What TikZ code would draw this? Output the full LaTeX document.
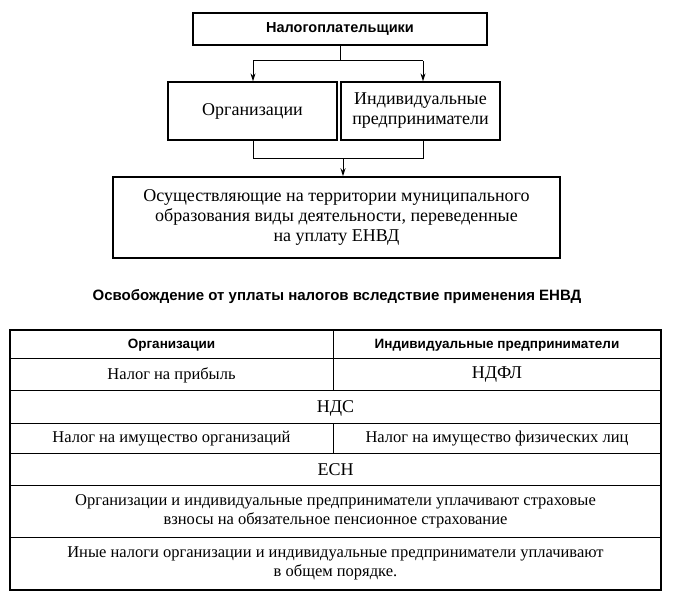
\documentclass[tikz,border=0pt]{standalone}
\usepackage{fontspec}
\setmainfont{Liberation Serif}
\newfontfamily\headfont{Liberation Sans}
\usetikzlibrary{arrows.meta,positioning,calc}

\tikzset{
  box/.style={draw,line width=1.3pt,inner sep=2pt,align=center,font=\fontsize{18}{20}\selectfont},
  cell/.style={align=center,font=\fontsize{16.5}{19}\selectfont},
  hcell/.style={align=center,font=\headfont\bfseries\fontsize{13.5}{16}\selectfont},
  link/.style={line width=1pt,-{Stealth[length=8pt,width=5pt]}},
  rule/.style={line width=1pt}
}

\begin{document}
\begin{tikzpicture}[x=1pt,y=-1pt]
  \useasboundingbox (0,0) rectangle (674,594);

  % payers
  \node[box,minimum width=294pt,minimum height=32pt,font=\headfont\bfseries\fontsize{14.5}{16}\selectfont] (payers) at (340,29) {Налогоплательщики};
  \node[box,minimum width=169pt,minimum height=58pt] (org) at (252.5,111) {Организации};
  \node[box,minimum width=159pt,minimum height=58pt] (ip) at (420.5,111) {Индивидуальные\\предприниматели};
  \node[box,minimum width=447pt,minimum height=81pt,line width=1.5pt] (act) at (336.5,217.5)
    {Осуществляющие на территории муниципального\\образования виды деятельности, переведенные\\на уплату ЕНВД};

  \coordinate (split) at (340,61);
  \coordinate (joinL) at (253,158);
  \coordinate (joinR) at (423,158);
  \draw[rule] (payers.south) -- (split);
  \draw[rule] (253,61) -- (423,61);
  \draw[link] (253,61) -- (org.north -| 253,0);
  \draw[link] (423,61) -- (ip.north -| 423,0);
  \draw[rule] (org.south -| joinL) -- (joinL) -- (joinR) -- (ip.south -| joinR);
  \draw[link] (343,158) -- (act.north -| 343,0);

  % title
  \node[font=\headfont\bfseries\fontsize{15}{17}\selectfont] (title) at (337,297)
    {Освобождение от уплаты налогов вследствие применения ЕНВД};

  % table
  \draw[line width=1.4pt] (10,330) rectangle (661,590);
  \foreach \y in {358,390,423,453,485,537}
    \draw[rule] (10,\y) -- (661,\y);
  \draw[rule] (333,330) -- (333,390);
  \draw[rule] (333,423) -- (333,453);

  \node[hcell] (h1) at (171.5,345) {Организации};
  \node[hcell] (h2) at (497,345) {Индивидуальные предприниматели};
  \node[cell] (r1a) at (171.5,375) {Налог на прибыль};
  \node[cell,font=\fontsize{18}{20}\selectfont] (r1b) at (497,375) {НДФЛ};
  \node[cell,font=\fontsize{18}{20}\selectfont] (r2) at (335.5,408) {НДС};
  \node[cell] (r3a) at (171.5,439) {Налог на имущество организаций};
  \node[cell] (r3b) at (497,439) {Налог на имущество физических лиц};
  \node[cell,font=\fontsize{18}{20}\selectfont] (r4) at (335.5,470) {ЕСН};
  \node[cell] (r5) at (335.5,511) {Организации и индивидуальные предприниматели уплачивают страховые\\взносы на обязательное пенсионное страхование};
  \node[cell] (r6) at (335.5,563.5) {Иные налоги организации и индивидуальные предприниматели уплачивают\\в общем порядке.};
\end{tikzpicture}
\end{document}
